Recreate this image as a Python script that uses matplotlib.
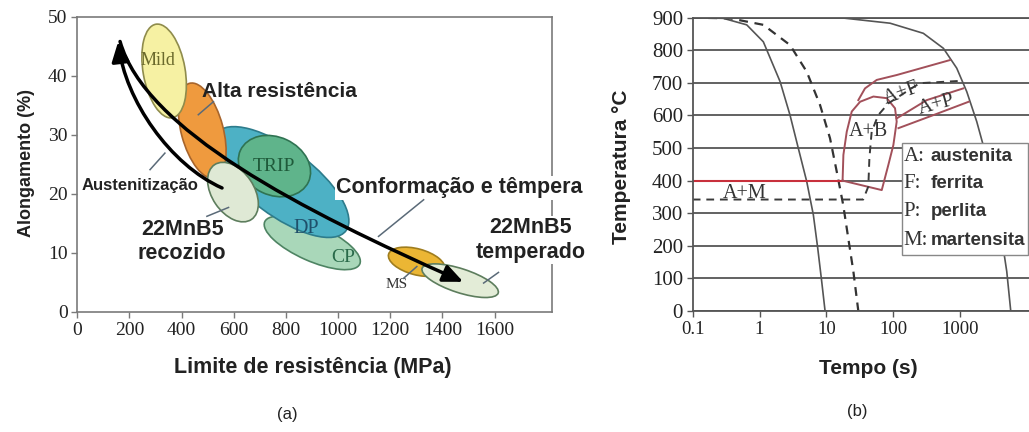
import matplotlib
matplotlib.use("Agg")
import matplotlib.pyplot as plt
from matplotlib.patches import Ellipse, FancyArrowPatch, Rectangle
from matplotlib.path import Path
from matplotlib.transforms import ScaledTranslation
from matplotlib.ticker import FixedLocator, FixedFormatter, NullLocator

plt.rcParams['font.family'] = ['Liberation Serif', 'DejaVu Serif']
SANS = ['Liberation Sans', 'DejaVu Sans']
NARROW = ['Liberation Sans Narrow', 'Liberation Sans', 'DejaVu Sans']

# ---------------- (a) data ----------------
steel_names = ['CP', 'DP', 'Alta resistência', 'Mild', 'TRIP', '22MnB5 recozido', 'MS', '22MnB5 temperado']
steel_mpa = [901, 782, 479, 333, 756, 597, 1301, 1468]        # centre, limite de resistencia
steel_elong = [11.7, 22.0, 30.7, 40.8, 24.7, 20.3, 8.5, 5.3]  # centre, alongamento

# process arrows (bezier control points, MPa / %)
aust_mpa = [555, 356, 183, 157]
aust_elong = [21.0, 24.9, 35.9, 45.8]
conf_mpa = [164, 260, 855, 1480]
conf_elong = [45.8, 30.8, 17.3, 5.1]

# ---------------- (b) data ----------------
fast_t = [0.1, 0.287, 0.643, 1.14, 2.03, 2.86, 3.81, 5.09, 6.39, 7.43, 8.53, 9.57]
fast_T = [900, 898, 878, 826, 704, 601, 499, 397, 295, 193, 90, 0]
crit_t = [0.1, 0.362, 1.14, 2.86, 5.09, 8.05, 11.35, 14.3, 17.9, 21.3, 25.4, 30.1]
crit_T = [900, 898, 878, 816, 734, 632, 530, 428, 325, 223, 121, 0]
slow_t = [0.1, 16, 90, 283, 565, 895, 1264, 1784, 2519, 3352, 4223, 5020, 5757]
slow_T = [900, 900, 883, 852, 806, 745, 673, 581, 469, 346, 223, 121, 0]

ms_t = [0.1, 17.5]
ms_T = [400, 400]
bain_t = [17.5, 18.0, 20.2, 24.0, 32.0, 50.6, 80.2, 106.7, 113, 100.7, 84.7, 67.5, 17.5]
bain_T = [400, 479, 550, 612, 642, 658, 653, 622, 581, 509, 448, 371, 400]
fin_t = [0.1, 35.6, 42.5, 44.1, 47.7, 59.8, 84.7, 158, 250, 1000]
fin_T = [342, 342, 382, 469, 550, 601, 637, 673, 699, 706]
fs_t = [30.1, 37.9, 56.8, 113, 711]
fs_T = [647, 683, 709, 724, 770]
p1_t = [113, 318, 1120]
p1_T = [591, 647, 683]
p2_t = [120, 400, 1350]
p2_T = [561, 601, 642]

phase_labels = ['A+M', 'A+B', 'A+F', 'A+P']
phase_t = [0.607, 42.6, 134, 452]
phase_T = [361, 550, 668, 632]

legend_keys = ['A:', 'F:', 'P:', 'M:']
legend_names = ['austenita', 'ferrita', 'perlita', 'martensita']

# ---------------- figure ----------------
fig = plt.figure(figsize=(10.29, 4.32), dpi=100)
ax1 = fig.add_axes([0.0751, 0.2778, 0.4613, 0.6836])
ax2 = fig.add_axes([0.6732, 0.2801, 0.3268, 0.6790])

# ----- panel (a) -----
ax1.set_xlim(0, 1820)
ax1.set_ylim(0, 50)
ax1.set_xticks(range(0, 1601, 200))
ax1.set_yticks(range(0, 51, 10))
for sp in ax1.spines.values():
    sp.set_color('#7a7a7a')
    sp.set_linewidth(1.2)
ax1.tick_params(direction='out', length=4, width=1, color='#7a7a7a',
                labelsize=14, pad=3, labelcolor='#222222')

# ellipse look (pixels), drawing order follows steel_names
ell_w = [104, 162, 98, 95, 75, 66, 58, 80]
ell_h = [36, 66, 42, 42, 58, 42, 26, 24]
ell_ang = [-24, -37, -75, -80, -25, -56, -15, -18]
ell_fc = ['#a9d7b9', '#4db1c5', '#ef9a3e', '#f6f1a3', '#5fb48b', '#dfe9d5', '#ebb634', '#e3ecd7']
ell_ec = ['#4e8463', '#2d7c8c', '#a8652c', '#8f8c4c', '#2f7352', '#5d7d5d', '#9f7d1e', '#5d7d5d']

for x, y, w, h, a, fc, ec in zip(steel_mpa, steel_elong, ell_w, ell_h, ell_ang, ell_fc, ell_ec):
    tr = fig.dpi_scale_trans + ScaledTranslation(x, y, ax1.transData)
    ax1.add_patch(Ellipse((0, 0), w / 100, h / 100, angle=a, transform=tr,
                          facecolor=fc, edgecolor=ec, lw=1.2))

# names written inside the ellipses
ax1.text(310, 42.5, 'Mild', color='#6b6a2c', fontsize=13, ha='center', va='center')
ax1.text(752, 24.7, 'TRIP', color='#1f5a3a', fontsize=14, ha='center', va='center')
ax1.text(877, 14.2, 'DP', color='#1f4f6a', fontsize=14.5, ha='center', va='center')
ax1.text(1019, 9.3, 'CP', color='#2a6a4a', fontsize=14, ha='center', va='center')
ax1.text(1226, 4.6, 'MS', color='#333333', fontsize=11, ha='center', va='center')

codes = [Path.MOVETO, Path.CURVE4, Path.CURVE4, Path.CURVE4]
for xs, ys in [(aust_mpa, aust_elong), (conf_mpa, conf_elong)]:
    arr = FancyArrowPatch(path=Path(list(zip(xs, ys)), codes), transform=ax1.transData,
                          arrowstyle='-|>,head_length=0.8,head_width=0.35',
                          mutation_scale=15, lw=2.5, color='black', zorder=4)
    ax1.add_patch(arr)

# leader lines
leaders = [((464, 522), (33.4, 35.6)), ((279, 336), (24.1, 26.9)),
           ((497, 580), (16.2, 17.7)), ((1155, 1328), (12.8, 19.0)),
           ((1558, 1615), (4.9, 6.7)), ((1251, 1302), (5.7, 7.7))]
for lx, ly in leaders:
    ax1.plot(lx, ly, color='#5a6a78', lw=1.1, zorder=5)

ax1.text(774, 37.3, 'Alta resistência', family=SANS, weight='bold', fontsize=15,
         color='#222222', ha='center', va='center')
ax1.text(239, 21.4, 'Austenitização', family=NARROW, weight='bold', fontsize=12,
         color='#222222', ha='center', va='center')
ax1.text(402, 11.9, '22MnB5\nrecozido', family=SANS, weight='bold', fontsize=15.5,
         color='#222222', ha='center', va='center', linespacing=1.2)
ax1.text(1465, 21.0, 'Conformação e têmpera', family=SANS, weight='bold', fontsize=15.5,
         color='#222222', ha='center', va='center',
         bbox=dict(fc='white', ec='none', pad=1))
ax1.text(1737, 12.2, '22MnB5\ntemperado', family=SANS, weight='bold', fontsize=15.5,
         color='#222222', ha='center', va='center', linespacing=1.2,
         bbox=dict(fc='white', ec='none', pad=1))

fig.text(0.304, 0.150, 'Limite de resistência (MPa)', family=SANS, weight='bold',
         fontsize=15.5, color='#222222', ha='center', va='center')
fig.text(0.026, 0.623, 'Alongamento (%)', family=SANS, weight='bold', fontsize=13,
         color='#222222', ha='center', va='center', rotation=90)
fig.text(0.279, 0.040, '(a)', family=SANS, fontsize=12, color='#222222',
         ha='center', va='center')

# ----- panel (b) -----
ax2.set_xscale('log')
ax2.set_xlim(0.1, 1.08e4)
ax2.set_ylim(0, 900)
ax2.xaxis.set_major_locator(FixedLocator([0.1, 1, 10, 100, 1000]))
ax2.xaxis.set_major_formatter(FixedFormatter(['0.1', '1', '10', '100', '1000']))
ax2.xaxis.set_minor_locator(NullLocator())
ax2.set_yticks(range(0, 901, 100))
ax2.spines['right'].set_visible(False)
for sp in ['left', 'bottom', 'top']:
    ax2.spines[sp].set_color('#555555')
    ax2.spines[sp].set_linewidth(1.3)
ax2.tick_params(direction='out', length=4, width=1, color='#555555',
                labelsize=13.5, pad=3, labelcolor='#222222')
ax2.tick_params(axis='y', labelsize=15)
ax2.grid(axis='y', color='#555555', lw=1.3)
ax2.set_axisbelow(True)

ax2.plot(fast_t, fast_T, color='#555555', lw=1.2)
ax2.plot(crit_t, crit_T, color='#333333', lw=1.6, ls=(0, (4, 3)))
ax2.plot(slow_t, slow_T, color='#555555', lw=1.2)
ax2.plot(ms_t, ms_T, color='#c8303c', lw=1.5)
ax2.plot(bain_t, bain_T, color='#a2505a', lw=1.4)
ax2.plot(fin_t, fin_T, color='#3a3a3a', lw=1.4, ls=(0, (4, 3)))
ax2.plot(fs_t, fs_T, color='#a2505a', lw=1.4)
ax2.plot(p1_t, p1_T, color='#a2505a', lw=1.4)
ax2.plot(p2_t, p2_T, color='#a2505a', lw=1.4)

rotations = [0, 0, 20, 15]
for lab, t, T, r in zip(phase_labels, phase_t, phase_T, rotations):
    ax2.text(t, T, lab, fontsize=14.5, color='#333333', ha='center', va='center',
             rotation=r, rotation_mode='anchor')

ax2.add_patch(Rectangle((0.621, 0.191), 0.376, 0.381, transform=ax2.transAxes,
                        facecolor='white', edgecolor='#888888', lw=1.0, zorder=5))
legend_y = [0.526, 0.435, 0.338, 0.242]
for key, name, y in zip(legend_keys, legend_names, legend_y):
    ax2.text(0.627, y, key, transform=ax2.transAxes, fontsize=15, color='#333333',
             ha='left', va='center', zorder=6)
    ax2.text(0.708, y, name, transform=ax2.transAxes, family=SANS, weight='bold',
             fontsize=13.5, color='#333333', ha='left', va='center', zorder=6)

fig.text(0.844, 0.148, 'Tempo (s)', family=SANS, weight='bold', fontsize=15,
         color='#222222', ha='center', va='center')
fig.text(0.604, 0.614, 'Temperatura °C', family=SANS, weight='bold', fontsize=15,
         color='#222222', ha='center', va='center', rotation=90)
fig.text(0.833, 0.047, '(b)', family=SANS, fontsize=12, color='#222222',
         ha='center', va='center')

fig.savefig('out.png', dpi=100, facecolor='white')
